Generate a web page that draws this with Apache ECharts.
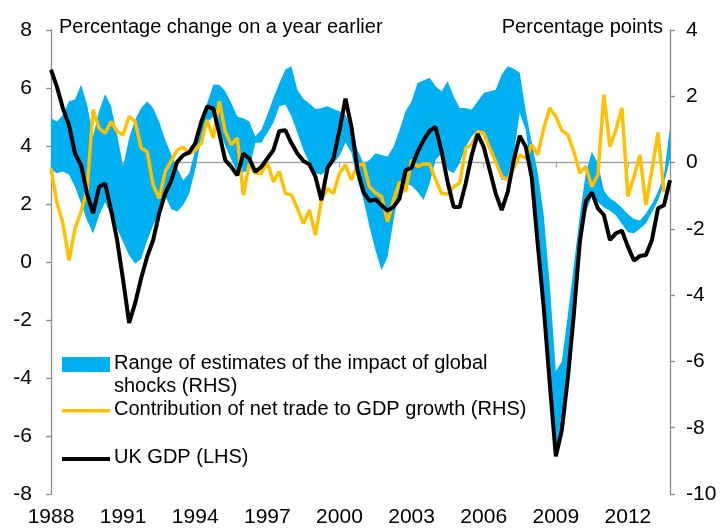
<!DOCTYPE html>
<html>
<head>
<meta charset="utf-8">
<script src="https://cdn.jsdelivr.net/npm/echarts@6/dist/echarts.min.js"></script>
<style>
html,body{margin:0;padding:0;background:#fff;}
#chart{width:723px;height:530px;}
</style>
</head>
<body>
<div id="chart"></div>
<script>
// Quarterly categories 1988 Q1 .. 2013 Q4
const years = [];
for (let y = 1988; y <= 2013; y++) years.push(y);
const quarters = ['Q1','Q2','Q3','Q4'];
const categories = [];
years.forEach(y => quarters.forEach(q => categories.push(y + ' ' + q)));

// UK GDP, % change on a year earlier (LHS)
const ukGdp = [
  6.63, 6.03, 5.29, 4.72, 3.74, 3.34, 2.36, 1.68, 2.59, 2.71,
  1.79, 0.76, -0.62, -2.10, -1.42, -0.56, 0.18, 0.76, 1.68, 2.36,
  2.80, 3.45, 3.68, 3.78, 4.09, 4.83, 5.37, 5.29, 4.43, 3.51,
  3.28, 2.99, 3.74, 3.57, 3.11, 3.28, 3.57, 3.86, 4.52, 4.54,
  4.10, 3.74, 3.48, 3.37, 2.94, 2.13, 3.23, 3.57, 4.54, 5.63,
  4.66, 3.17, 2.42, 2.10, 2.16, 1.96, 1.77, 1.90, 2.19, 3.17,
  3.25, 3.80, 4.20, 4.52, 4.66, 3.80, 2.76, 1.90, 1.90, 2.71,
  3.68, 4.41, 3.97, 3.17, 2.36, 1.79, 2.42, 3.51, 4.35, 3.97,
  2.90, 0.60, -1.60, -4.20, -6.70, -5.80, -4.00, -1.80, 0.70, 2.10,
  2.40, 1.85, 1.62, 0.76, 0.99, 1.08, 0.53, 0.05, 0.21, 0.24,
  0.76, 1.85, 1.96, 2.82
];

// Contribution of net trade to GDP growth, pp (RHS)
const netTrade = [
  -0.17, -1.23, -1.84, -2.95, -1.99, -1.48, -0.83, 1.60, 1.04, 0.89,
  1.24, 0.94, 0.84, 1.39, 1.24, 0.44, 0.33, -0.68, -1.08, -0.27,
  0.05, 0.38, 0.47, 0.26, 0.38, 0.59, 1.29, 0.74, 1.85, 0.94,
  0.54, 0.74, -0.98, -0.02, -0.32, -0.32, 0.00, -0.58, -0.27, -0.93,
  -0.98, -1.38, -1.84, -1.43, -2.19, -1.13, -0.78, -0.93, -0.32, -0.07,
  -0.52, -0.07, -0.04, -0.73, -0.91, -1.03, -1.79, -1.13, -0.58, -0.88,
  0.08, -0.12, -0.04, -0.04, -0.52, -0.93, -0.95, -0.73, -0.62, 0.44,
  0.54, 0.94, 0.89, 0.44, 0.03, -0.42, -0.52, -0.17, 0.23, 0.13,
  0.54, 0.23, 1.04, 1.65, 1.39, 0.97, 0.84, 0.33, -0.32, -0.12,
  -0.73, -0.37, 2.05, 0.48, 0.99, 1.65, -1.03, -0.42, 0.23, -1.28,
  -0.22, 0.91, -0.90, null
];

// Range of estimates of the impact of global shocks, pp (RHS)
const shockHigh = [
  1.34, 1.24, 1.44, 1.85, 1.90, 2.35, 1.75, 0.80, 1.55, 2.07,
  1.70, 0.84, -0.12, 0.74, 1.29, 1.65, 1.84, 1.65, 1.24, 0.69,
  0.25, -0.17, -0.53, -0.32, 0.38, 1.19, 1.80, 2.35, 2.35, 2.15,
  1.80, 1.39, 1.34, 1.24, 0.79, 0.99, 1.44, 1.95, 2.40, 2.81,
  2.91, 2.20, 1.92, 1.78, 1.62, 1.65, 1.70, 1.62, 1.55, 1.44,
  1.09, 0.38, -0.02, 0.08, 0.28, 0.23, 0.18, 0.48, 0.99, 1.55,
  1.85, 2.40, 2.48, 2.56, 2.30, 2.15, 2.45, 2.00, 1.65, 1.65,
  1.60, 1.85, 2.10, 2.15, 2.20, 2.66, 2.91, 2.83, 2.71, 1.55,
  0.60, -0.30, -1.60, -3.70, -6.30, -6.00, -4.60, -3.10, -1.60, -0.30,
  0.33, -0.02, -0.85, -1.08, -1.20, -1.36, -1.56, -1.70, -1.75, -1.53,
  -1.24, -0.88, -0.38, 1.07
];
const shockLow = [
  -0.22, -0.32, -0.27, -0.37, -0.73, -1.23, -1.74, -2.14, -1.60, -1.20,
  -1.60, -2.00, -2.40, -2.80, -3.05, -2.90, -2.35, -1.90, -1.50, -1.00,
  -1.40, -1.48, -1.28, -0.93, -0.20, 0.70, 1.20, 1.40, 1.00, 0.50,
  0.10, -0.30, -0.30, -0.20, 0.60, 0.60, 0.90, 1.20, 1.70, 1.75,
  1.40, 0.90, 0.38, -0.02, -0.32, -0.37, -0.22, -0.02, 0.20, 0.60,
  0.30, -0.53, -1.13, -1.94, -2.65, -3.25, -2.85, -1.74, -0.73, -0.63,
  -0.70, -0.88, -1.13, -0.63, 0.08, 0.28, -0.22, -0.32, -0.02, 0.48,
  0.79, 0.99, 0.79, 0.38, -0.07, -0.53, -0.42, 0.28, 1.49, 1.00,
  -0.50, -2.50, -4.50, -6.80, -8.90, -8.10, -6.50, -4.60, -2.40, -1.50,
  -1.00, -1.20, -1.35, -1.45, -1.60, -1.85, -2.10, -2.13, -2.00, -1.84,
  -1.50, -1.15, -0.63, 0.10
];

const leftTicks = { min: -8, max: 8, step: 2 };
const rightTicks = { min: -10, max: 4, step: 2 };

const shockSpread = shockHigh.map((h, i) => +(h - shockLow[i]).toFixed(3));

const BLUE = '#00B0F0';
const YELLOW = '#FFC000';
const AXIS_GREY = '#8C8C8C';
const FONT = '"Liberation Sans", Arial, sans-serif';

const chart = echarts.init(document.getElementById('chart'), null, { renderer: 'canvas' });
chart.setOption({
  animation: false,
  backgroundColor: '#ffffff',
  textStyle: { fontFamily: FONT },
  grid: { left: 51, right: 53, top: 30, bottom: 36, containLabel: false },
  xAxis: [
    {
      type: 'category', data: categories, boundaryGap: false, position: 'bottom',
      axisLine: { show: false }, axisTick: { show: false }, splitLine: { show: false },
      axisLabel: {
        interval: i => i % 12 === 0,
        formatter: v => v.slice(0, 4),
        color: '#000', fontSize: 21, fontFamily: FONT, margin: 13
      }
    },
    {
      type: 'category', data: categories, boundaryGap: false, position: 'bottom',
      axisLine: { show: true, onZero: true, onZeroAxisIndex: 1, lineStyle: { color: '#A6A6A6', width: 1.3 } },
      axisTick: { show: true, interval: i => i % 12 === 0, length: 5, lineStyle: { color: '#A6A6A6', width: 1.3 } },
      axisLabel: { show: false }, splitLine: { show: false }
    }
  ],
  yAxis: [
    {
      type: 'value', min: leftTicks.min, max: leftTicks.max, interval: leftTicks.step, position: 'left',
      axisLine: { show: true, lineStyle: { color: AXIS_GREY, width: 1.3 } },
      axisTick: { show: true, length: 5, lineStyle: { color: AXIS_GREY, width: 1.3 } },
      splitLine: { show: false },
      axisLabel: { color: '#000', fontSize: 21, fontFamily: FONT, margin: 19 }
    },
    {
      type: 'value', min: rightTicks.min, max: rightTicks.max, interval: rightTicks.step, position: 'right',
      axisLine: { show: true, onZero: false, lineStyle: { color: AXIS_GREY, width: 1.3 } },
      axisTick: { show: true, length: 5, lineStyle: { color: AXIS_GREY, width: 1.3 } },
      splitLine: { show: false },
      axisLabel: { color: '#000', fontSize: 21, fontFamily: FONT, margin: 16 }
    }
  ],
  series: [
    {
      name: 'shock low', type: 'line', xAxisIndex: 0, yAxisIndex: 1,
      data: shockLow, stack: 'band', stackStrategy: 'all',
      symbol: 'none', silent: true, lineStyle: { opacity: 0 }, z: 1
    },
    {
      name: 'Range of estimates of the impact of global shocks (RHS)', type: 'line', xAxisIndex: 0, yAxisIndex: 1,
      data: shockSpread, stack: 'band', stackStrategy: 'all',
      symbol: 'none', silent: true, lineStyle: { opacity: 0 },
      areaStyle: { color: BLUE, opacity: 1 }, z: 1
    },
    {
      name: 'Contribution of net trade to GDP growth (RHS)', type: 'line', xAxisIndex: 0, yAxisIndex: 1,
      data: netTrade, symbol: 'none', lineStyle: { color: YELLOW, width: 3.5 }, z: 3
    },
    {
      name: 'UK GDP (LHS)', type: 'line', xAxisIndex: 0, yAxisIndex: 0,
      data: ukGdp, symbol: 'none', lineStyle: { color: '#000', width: 4 }, z: 4
    }
  ],
  graphic: [
    { type: 'text', left: 59, top: 17, style: { text: 'Percentage change on a year earlier', font: '20px ' + FONT, fill: '#000' } },
    { type: 'text', right: 60, top: 17, style: { text: 'Percentage points', font: '20px ' + FONT, fill: '#000' } },
    { type: 'rect', left: 62, top: 357, shape: { width: 48, height: 15 }, style: { fill: BLUE } },
    { type: 'text', left: 114, top: 352, style: { text: 'Range of estimates of the impact of global\nshocks (RHS)', font: '20px ' + FONT, fill: '#000', lineHeight: 23 } },
    { type: 'rect', left: 62, top: 409, shape: { width: 48, height: 3.5 }, style: { fill: YELLOW } },
    { type: 'text', left: 114, top: 399, style: { text: 'Contribution of net trade to GDP growth (RHS)', font: '20px ' + FONT, fill: '#000' } },
    { type: 'rect', left: 62, top: 457, shape: { width: 48, height: 4 }, style: { fill: '#000' } },
    { type: 'text', left: 114, top: 447, style: { text: 'UK GDP (LHS)', font: '20px ' + FONT, fill: '#000' } }
  ]
});
</script>
</body>
</html>
